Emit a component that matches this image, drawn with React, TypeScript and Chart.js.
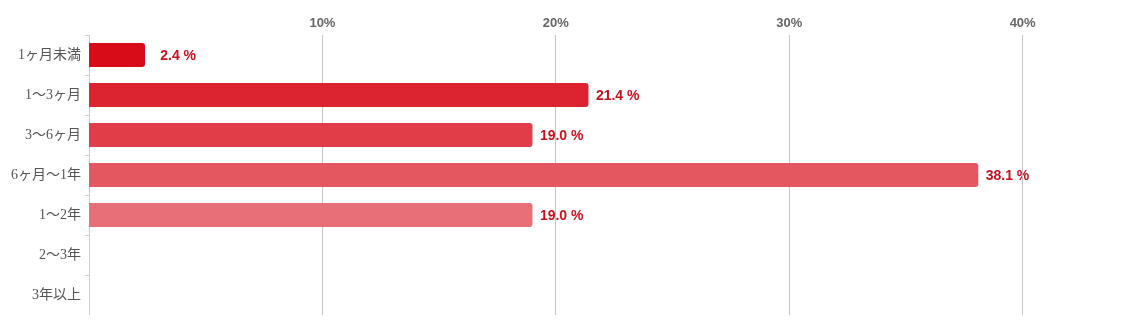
import React, { useEffect, useRef } from "react";
import { Chart, registerables } from "chart.js";

Chart.register(...registerables);

const categories = ["1ヶ月未満", "1〜3ヶ月", "3〜6ヶ月", "6ヶ月〜1年", "1〜2年", "2〜3年", "3年以上"];
const values = [2.4, 21.4, 19.0, 38.1, 19.0, 0, 0];
const barColors = ["#d80c18", "#dc2430", "#e03d48", "#e45660", "#e86f78", "#ec8890", "#f0a0a8"];
const xTicks = [10, 20, 30, 40];
const xMax = 44;

const valueLabels = {
  id: "valueLabels",
  beforeDraw(chart: any) {
    const ctx = chart.ctx;
    const meta = chart.getDatasetMeta(0);
    ctx.save();
    ctx.font = "bold 14px 'Liberation Sans', Arial, sans-serif";
    ctx.fillStyle = "#c8111e";
    ctx.textAlign = "right";
    ctx.textBaseline = "middle";
    meta.data.forEach((bar: any, i: number) => {
      const v = values[i];
      if (!v) return;
      ctx.fillText(v.toFixed(1) + " %", bar.x + 51, bar.y + 1);
    });
    ctx.restore();
  },
};

export default function App() {
  const ref = useRef<HTMLCanvasElement | null>(null);
  useEffect(() => {
    if (!ref.current) return;
    const chart = new Chart(ref.current, {
      type: "bar",
      data: {
        labels: categories,
        datasets: [
          {
            data: values,
            backgroundColor: barColors,
            borderRadius: 3,
            borderSkipped: "start",
            barPercentage: 0.6,
            categoryPercentage: 1,
          },
        ],
      },
      options: {
        indexAxis: "y",
        animation: false,
        responsive: true,
        maintainAspectRatio: false,
        layout: { padding: 0 },
        plugins: { legend: { display: false }, tooltip: { enabled: false } },
        scales: {
          x: {
            position: "top",
            min: 0,
            max: xMax,
            afterBuildTicks: (scale: any) => {
              scale.ticks = xTicks.map((v) => ({ value: v }));
            },
            afterFit: (scale: any) => {
              scale.height = 27;
            },
            grid: { color: "#c4c4c4", lineWidth: 1, drawTicks: false },
            border: { display: false },
            ticks: {
              padding: 4,
              color: "#666666",
              font: { family: "'Liberation Sans', Arial, sans-serif", size: 13, weight: "bold" },
              callback: (v: any) => v + "%",
            },
          },
          y: {
            afterFit: (scale: any) => {
              scale.width = 81;
              scale.paddingTop = 0;
              scale.paddingBottom = 0;
            },
            grid: {
              drawOnChartArea: false,
              drawTicks: true,
              tickLength: 4,
              color: "#c5d8e6",
              offset: true,
            },
            border: { display: true, color: "#b9d0e2", width: 1 },
            ticks: {
              padding: 4,
              color: "#555555",
              font: { family: "'Liberation Serif', 'Noto Sans CJK JP', serif", size: 14 },
            },
          },
        },
      },
      plugins: [valueLabels],
    });
    return () => chart.destroy();
  }, []);
  return (
    <div style={{ position: "relative", width: 1108, height: 307 }}>
      <canvas ref={ref} />
    </div>
  );
}
